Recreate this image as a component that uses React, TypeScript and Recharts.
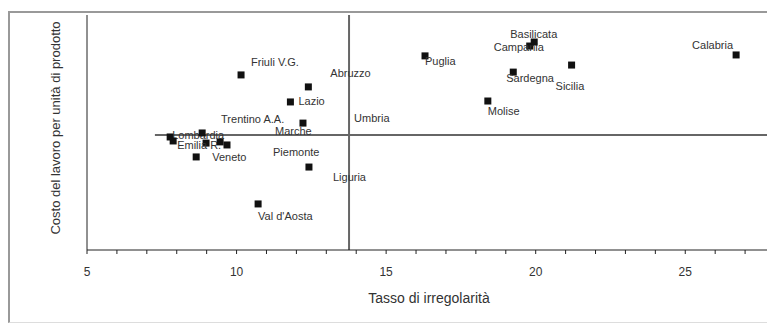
import React from 'react';
import { ScatterChart, Scatter, XAxis, YAxis, ReferenceLine } from 'recharts';

// regioni, tasso di irregolarità (x) e indice del costo del lavoro (y, scala arbitraria 0-100)
const REGIONI = [
  'Piemonte', "Val d'Aosta", 'Lombardia', 'Trentino A.A.', 'Veneto', 'Friuli V.G.', 'Liguria',
  'Emilia R.', 'Toscana', 'Umbria', 'Marche', 'Lazio', 'Abruzzo', 'Molise', 'Campania',
  'Puglia', 'Basilicata', 'Calabria', 'Sicilia', 'Sardegna',
];
const IRREGOLARITA = [
  9.68, 10.72, 7.78, 8.98, 8.65, 10.15, 12.42, 7.88, 8.85, 9.45, 12.22, 11.8, 12.4, 18.4, 19.8,
  16.3, 19.95, 26.7, 21.2, 19.25,
];
const COSTO = [
  44.7, 19.6, 48.1, 45.5, 39.6, 74.5, 35.3, 46.4, 49.8, 46.0, 54.0, 63.0, 69.4, 63.4, 86.8,
  82.6, 88.5, 83.0, 78.7, 75.7,
];
const X_TICKS = [5, 6, 7, 8, 9, 10, 11, 12, 13, 14, 15, 16, 17, 18, 19, 20, 21, 22, 23, 24, 25, 26, 27, 28];
const X_LABELS = [5, 10, 15, 20, 25];
const MEDIA_X = 13.76;
const MEDIA_Y = 48.9;
const INIZIO_LINEA_Y = 7.27;

// posizione delle etichette rispetto al marcatore (px), come sistemate a mano nel grafico originale
const LABEL_OFFSETS: Record<string, [number, number] | null> = {
  Piemonte: [46, 7],
  "Val d'Aosta": [0, 12],
  Lombardia: [2, -2],
  'Trentino A.A.': [15, -24],
  Veneto: [16, 0],
  'Friuli V.G.': [10, -13],
  Liguria: [24, 10],
  'Emilia R.': [4, 4],
  Toscana: null,
  Umbria: [134, -24],
  Marche: [-28, 8],
  Lazio: [8, -1],
  Abruzzo: [22, -14],
  Molise: [0, 10],
  Campania: [-36, 1],
  Puglia: [0, 5],
  Basilicata: [-24, -8],
  Calabria: [-44, -10],
  Sicilia: [-16, 21],
  Sardegna: [-7, 6],
};

const data = REGIONI.map((name, i) => ({ name, x: IRREGOLARITA[i], y: COSTO[i] }));

const FONT = '"Liberation Sans", Arial, sans-serif';

const Marker = (props: any) => {
  const { cx, cy, payload } = props;
  const off = LABEL_OFFSETS[payload.name];
  return (
    <g>
      <rect x={cx - 3.5} y={cy - 3.5} width={7} height={7} fill="#111" />
      {off && (
        <text x={cx + off[0]} y={cy + off[1]} dominantBaseline="central" fontSize={11} fill="#333" fontFamily={FONT}>
          {payload.name}
        </text>
      )}
    </g>
  );
};

const XTick = (props: any) => {
  const { x, y, payload } = props;
  if (!X_LABELS.includes(payload.value)) return null;
  return (
    <text x={x} y={y} dy="0.71em" textAnchor="middle" fontSize={12} fill="#333" fontFamily={FONT}>
      {payload.value}
    </text>
  );
};

export default function App() {
  return (
    <div style={{ position: 'fixed', left: 0, top: 0, width: 767, height: 325, overflow: 'hidden', background: '#fff' }}>
      <div
        style={{
          position: 'absolute', left: 8, top: 11, width: 800, height: 309,
          borderLeft: '2px solid #999', borderTop: '2px solid #999', borderBottom: '1px solid #ddd',
        }}
      />
      <div style={{ position: 'absolute', left: 0, top: 0 }}>
        <ScatterChart width={800} height={325} margin={{ top: 15, right: 25, bottom: 45, left: 27 }}>
          <XAxis
            type="number"
            dataKey="x"
            domain={[5, 28]}
            ticks={X_TICKS}
            interval={0}
            height={30}
            tickSize={4}
            tickMargin={13}
            stroke="#222"
            tick={<XTick />}
          />
          <YAxis type="number" dataKey="y" domain={[0, 100]} width={60} tick={false} tickLine={false} stroke="#222" />
          <ReferenceLine x={MEDIA_X} stroke="#666" strokeWidth={2} />
          <ReferenceLine
            segment={[{ x: INIZIO_LINEA_Y, y: MEDIA_Y }, { x: 28, y: MEDIA_Y }]}
            stroke="#666"
            strokeWidth={2}
          />
          <Scatter data={data} shape={<Marker />} isAnimationActive={false} />
        </ScatterChart>
      </div>
      <div
        style={{
          position: 'absolute', left: 429, top: 298, transform: 'translate(-50%, -50%)',
          fontFamily: FONT, fontSize: 14, color: '#333', whiteSpace: 'nowrap',
        }}
      >
        Tasso di irregolarità
      </div>
      <div
        style={{
          position: 'absolute', left: 55, top: 128, transform: 'translate(-50%, -50%) rotate(-90deg)',
          fontFamily: FONT, fontSize: 13, color: '#333', whiteSpace: 'nowrap',
        }}
      >
        Costo del lavoro per unità di prodotto
      </div>
    </div>
  );
}
